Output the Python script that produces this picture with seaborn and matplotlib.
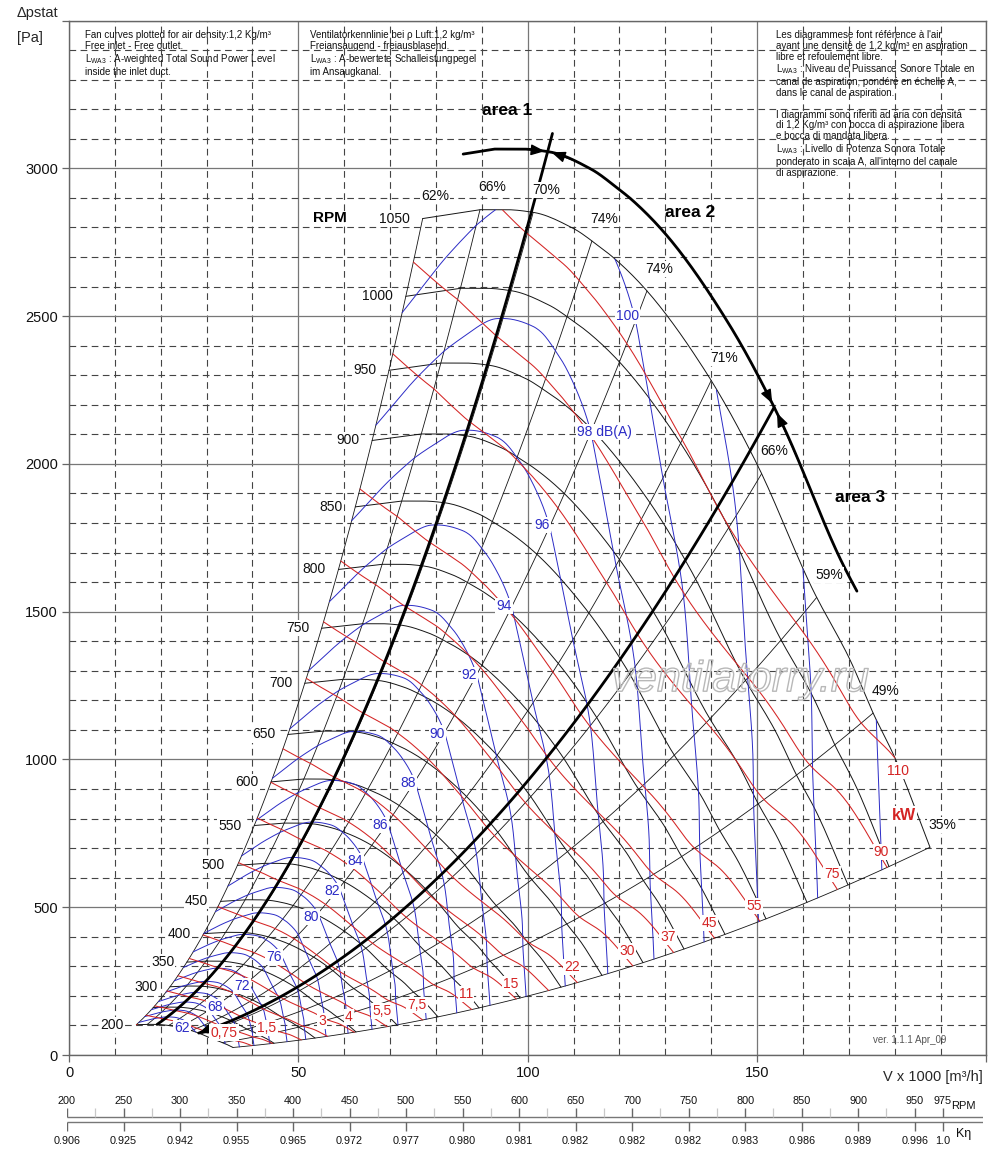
# Fan performance sheet: static pressure vs. air flow
# Speed curves, efficiency lines, motor power lines, sound power lines,
# the three operating areas and the RPM / K-eta scales underneath.

import numpy as np
import pandas as pd
import matplotlib
matplotlib.use("Agg")
import matplotlib.pyplot as plt
import matplotlib.patheffects as pe
import seaborn as sns

# -----------------------------------------------------------
# STEP 1: values
# -----------------------------------------------------------
# outer speed curve (1050 RPM): flow in 1000 m3/h, static pressure in Pa
rpm_top = 1050
base_V = [77.1, 89.6, 95.4, 101.2, 109.9, 115.8, 118.6, 125.9,
          139.0, 149.9, 162.2, 170.3, 175.3, 180.1, 187.7]
base_p = [2830, 2860, 2860, 2851, 2797, 2733, 2699, 2587,
          2307, 2002, 1573, 1336, 1157, 1004, 703]

# speeds drawn as black curves (250 carries no label on the sheet)
rpm_values = [200, 250, 300, 350, 400, 450, 500, 550, 600, 650,
              700, 750, 800, 850, 900, 950, 1000, 1050]
rpm_no_label = [250]

# efficiency lines: where each one meets the 1050 RPM curve
eff_V = [77.1, 89.6, 101.2, 114.0, 126.0, 140.0, 151.0, 163.0, 175.3, 187.7]
eff_pct = [62, 66, 70, 74, 74, 71, 66, 59, 49, 35]

# motor power along the 1050 RPM curve (kW), where the red lines meet it
power_V = [77.1, 89.6, 101.2, 114.0, 126.0, 140.0, 151.0, 163.0, 175.3, 180.1, 187.7]
power_kW = [97.5, 106.5, 114.3, 118.5, 122.4, 126.3, 127.1, 119.7, 115.0, 110.0, 104.9]

# sound power LwA3 along the 1050 RPM curve (dB(A))
snd_V = [77.1, 85, 93, 100, 108, 115, 119, 125, 130, 140, 150, 160, 170, 176, 187.7]
snd_L = [101.45, 100.6, 100.0, 99.65, 99.6, 99.8, 100.0, 100.4, 100.9,
         101.9, 102.8, 104.0, 105.2, 106.0, 107.4]
sound_per_decade = 56          # dB per tenfold speed
db_levels = [62, 64, 66, 68, 70, 72, 74, 76, 78, 80, 82, 84, 86, 88,
             90, 92, 94, 96, 98, 100, 102, 104, 106]
db_shown = [62, 68, 72, 76, 80, 82, 84, 86, 88, 90, 92, 94, 96, 98, 100]
db_label_V = 125.0             # labels sit where the lines cross this curve point

# motor power lines (kW), empty text = line without label
kw_values = [0.75, 1.1, 1.5, 2.2, 3, 4, 5.5, 7.5, 11, 15, 18.5, 22,
             30, 37, 45, 55, 75, 90, 110]
kw_text = ["0,75", "", "1,5", "", "3", "4", "5,5", "7,5", "11", "15", "",
           "22", "30", "37", "45", "55", "75", "90", "110"]

# operating area borders (thick lines)
area1_V = 100.8                # curve point followed by the area 1 line
area3_V = 148.5                # curve point followed by the area 3 line
area2_rpm = 1087               # speed of the area 2 arc
area2_span = [82.9, 166.0]

# scales under the chart
scale_rpm = [200, 250, 300, 350, 400, 450, 500, 550, 600, 650, 700,
             750, 800, 850, 900, 950, 975]
scale_keta = ["0.906", "0.925", "0.942", "0.955", "0.965", "0.972", "0.977",
              "0.980", "0.981", "0.982", "0.982", "0.982", "0.983", "0.986",
              "0.989", "0.996", "1.0"]
scale_minor = [225, 275, 325, 375, 425, 475, 525, 575, 625, 675, 725,
               775, 825, 875, 925]

# -----------------------------------------------------------
# STEP 2: style
# -----------------------------------------------------------
sns.set_theme(style="white")
plt.rcParams["font.family"] = ["Liberation Sans", "DejaVu Sans"]
plt.rcParams["mathtext.fontset"] = "custom"
plt.rcParams["mathtext.rm"] = "Liberation Sans"
plt.rcParams["mathtext.it"] = "Liberation Sans:italic"
plt.rcParams["mathtext.bf"] = "Liberation Sans:bold"

BLACK = "#151515"
RED = "#d42424"
BLUE = "#2c2cc6"
WHITE_BOX = dict(boxstyle="square,pad=0.08", fc="white", ec="none")

fig = plt.figure(figsize=(10, 11.6), dpi=100)
ax = fig.add_axes([0.069, 0.0905, 0.9174, 0.8918])
ax.set_xlim(0, 200)
ax.set_ylim(0, 3500)

ax.set_xticks([0, 50, 100, 150, 200])
ax.set_xticks(np.arange(0, 201, 10), minor=True)
ax.set_yticks(np.arange(0, 3501, 500))
ax.set_yticks(np.arange(0, 3501, 100), minor=True)
ax.set_xticklabels(["0", "50", "100", "150", ""])
ax.set_yticklabels(["0", "500", "1000", "1500", "2000", "2500", "3000", ""])
ax.grid(which="major", color="#777777", lw=0.9, ls="-")
ax.grid(which="minor", color="#444444", lw=0.8, ls=(0, (6, 4)))
ax.set_axisbelow(True)
ax.tick_params(which="minor", length=0)
ax.tick_params(which="major", bottom=True, left=True, length=5, width=0.9,
               color="#666666", labelsize=10.5, pad=3, direction="out",
               labelcolor="#111111")
for spine in ax.spines.values():
    spine.set_color("#666666")
    spine.set_linewidth(1.0)


# -----------------------------------------------------------
# STEP 3: smooth curves through the read points + fan laws
#         (flow ~ n, pressure ~ n^2, power ~ n^3)
# -----------------------------------------------------------
def hermite(x, y, m, xn):
    x = np.asarray(x, float)
    y = np.asarray(y, float)
    xn = np.asarray(xn, float)
    h = np.diff(x)
    i = np.clip(np.searchsorted(x, xn) - 1, 0, len(x) - 2)
    t = (xn - x[i]) / h[i]
    return ((2 * t ** 3 - 3 * t ** 2 + 1) * y[i] + (t ** 3 - 2 * t ** 2 + t) * h[i] * m[i]
            + (-2 * t ** 3 + 3 * t ** 2) * y[i + 1] + (t ** 3 - t ** 2) * h[i] * m[i + 1])


def smooth(x, y, xn):
    # monotone cubic (no overshoot at the peak of the speed curve)
    x = np.asarray(x, float)
    y = np.asarray(y, float)
    h = np.diff(x)
    d = np.diff(y) / h
    m = np.zeros_like(y)
    m[0], m[-1] = d[0], d[-1]
    for i in range(1, len(x) - 1):
        if d[i - 1] * d[i] > 0:
            w1 = 2 * h[i] + h[i - 1]
            w2 = h[i] + 2 * h[i - 1]
            m[i] = (w1 + w2) / (w1 / d[i - 1] + w2 / d[i])
    return hermite(x, y, m, xn)


def soft(x, y, xn):
    # Catmull-Rom style cubic: slopes from the neighbouring points
    x = np.asarray(x, float)
    y = np.asarray(y, float)
    m = np.gradient(y, x)
    return hermite(x, y, m, xn)


def pressure_at(v0):
    # straight piece from the stall point, smooth arc after it
    v0 = np.asarray(v0, float)
    straight = np.interp(v0, base_V[:2], base_p[:2])
    arc = smooth(base_V[1:], base_p[1:], np.maximum(v0, base_V[1]))
    return np.where(v0 <= base_V[1], straight, arc)


r_min = rpm_values[0] / rpm_top
s_V = np.linspace(base_V[0], base_V[-1], 900)
s_p = pressure_at(s_V)
s_L = smooth(snd_V, snd_L, s_V)
s_kw = soft(power_V, power_kW, s_V)


def keep_inside(r, lo=r_min, hi=1.0):
    r = np.array(r, dtype=float)
    r[(r < lo - 1e-9) | (r > hi + 1e-9)] = np.nan
    return r


def point_on(v0, r):
    return v0 * r, pressure_at(v0) * np.asarray(r) ** 2


# speed curves, drawn with seaborn as one long table
rows = []
for n in rpm_values:
    r = n / rpm_top
    for v0, p0 in zip(s_V[::6], s_p[::6]):
        rows.append({"rpm": n, "V": v0 * r, "p": p0 * r ** 2})
    rows.append({"rpm": n, "V": s_V[-1] * r, "p": s_p[-1] * r ** 2})
rpm_df = pd.DataFrame(rows)
sns.lineplot(data=rpm_df, x="V", y="p", units="rpm", estimator=None,
             sort=False, color=BLACK, lw=0.7, ax=ax, legend=False, zorder=2)
ax.set_xlabel("")
ax.set_ylabel("")

for n in rpm_values:
    if n in rpm_no_label:
        continue
    ax.annotate(str(n), xy=point_on(base_V[0], n / rpm_top), xytext=(-9, 0),
                textcoords="offset points", ha="right", va="center",
                fontsize=10, color="#111111", bbox=WHITE_BOX, zorder=6)

# efficiency lines (same point of every speed curve)
r_line = np.linspace(r_min, 1.0, 80)
for v0, pct in zip(eff_V, eff_pct):
    V, p = point_on(v0, r_line)
    ax.plot(V, p, color=BLACK, lw=0.6, zorder=2)
    ax.annotate(f"{pct}%", xy=point_on(v0, 1.0), xytext=(9, 16),
                textcoords="offset points", ha="center", va="center",
                fontsize=10, color="#111111", bbox=WHITE_BOX, zorder=6)

# sound power lines
for L in db_levels:
    r = keep_inside(10 ** ((L - s_L) / sound_per_decade))
    ax.plot(s_V * r, s_p * r ** 2, color=BLUE, lw=0.7, zorder=2.2)

L_at_label = smooth(snd_V, snd_L, [db_label_V])[0]
for L in db_shown:
    r = 10 ** ((L - L_at_label) / sound_per_decade)
    xy = point_on(db_label_V, r)
    if L == 98:
        ax.annotate("98 dB(A)", xy=xy, xytext=(-8, -6), textcoords="offset points",
                    ha="left", va="center", fontsize=10, color=BLUE,
                    bbox=WHITE_BOX, zorder=6)
    else:
        ax.annotate(str(L), xy=xy, xytext=(-4, -4), textcoords="offset points",
                    ha="center", va="center", fontsize=10, color=BLUE,
                    bbox=WHITE_BOX, zorder=6)

# motor power lines (efficiency corrected with K-eta of the speed)
keta_num = [float(v) for v in scale_keta]
for P, txt in zip(kw_values, kw_text):
    r = (P / s_kw) ** (1 / 3)
    for _ in range(5):
        k = np.interp(r * rpm_top, scale_rpm, keta_num)
        r = (P * k / s_kw) ** (1 / 3)
    r_in = keep_inside(r)
    ax.plot(s_V * r_in, s_p * r_in ** 2, color=RED, lw=0.75, zorder=2.4)
    if not txt:
        continue
    if r[-1] <= 1.0:
        xy = (s_V[-1] * r[-1], s_p[-1] * r[-1] ** 2)
        off = (-4, 11)
    else:
        last = np.where(~np.isnan(r_in))[0][-1]
        xy = (s_V[last] * r_in[last], s_p[last] * r_in[last] ** 2)
        off = (2, -9)
    ax.annotate(txt, xy=xy, xytext=off, textcoords="offset points",
                ha="center", va="center", fontsize=10, color=RED,
                bbox=WHITE_BOX, zorder=6)

# -----------------------------------------------------------
# STEP 4: operating areas
# -----------------------------------------------------------
ra = area2_rpm / rpm_top
V1, p1 = point_on(area1_V, np.linspace(r_min, ra * 1.01, 80))
ax.plot(V1, p1, color="black", lw=2.0, zorder=4)
V3, p3 = point_on(area3_V, np.linspace(r_min, ra, 80))
ax.plot(V3, p3, color="black", lw=2.0, zorder=4)
span = (s_V >= area2_span[0]) & (s_V <= area2_span[1])
ax.plot(s_V[span] * ra, s_p[span] * ra ** 2, color="black", lw=2.0, zorder=4)


def arrow(tail, tip):
    ax.annotate("", xy=tip, xytext=tail, zorder=5,
                arrowprops=dict(arrowstyle="-|>,head_length=0.7,head_width=0.28",
                                color="black", lw=1, shrinkA=0, shrinkB=0,
                                mutation_scale=12))


arrow(point_on(area1_V - 5, ra), point_on(area1_V - 0.6, ra))
arrow(point_on(area1_V + 6, ra), point_on(area1_V + 0.8, ra))
arrow(point_on(area3_V - 5, ra), point_on(area3_V - 0.4, ra))
arrow(point_on(area3_V + 5, ra), point_on(area3_V + 0.6, ra))
arrow(point_on(area3_V, 0.23), point_on(area3_V, r_min))

ax.text(95.5, 3196, "area 1", fontsize=12.5, fontweight="bold", ha="center",
        va="center", color="black", zorder=6)
ax.text(135.4, 2851, "area 2", fontsize=12.5, fontweight="bold", ha="center",
        va="center", color="black", zorder=6)
ax.text(172.4, 1887, "area 3", fontsize=12.5, fontweight="bold", ha="center",
        va="center", color="black", zorder=6)
ax.text(56.9, 2831, "RPM", fontsize=11, fontweight="bold", ha="center",
        va="center", color="black", zorder=6)
ax.text(182.0, 812, "kW", fontsize=11.5, fontweight="bold", ha="center",
        va="center", color=RED, bbox=WHITE_BOX, zorder=6)
ax.text(183.3, 51, "ver. 1.1.1 Apr_09", fontsize=7, ha="center",
        va="center", color="#555555", zorder=6)

# watermark, outline only
wm = ax.text(146.3, 1268, "ventilatorry.ru", fontsize=31, style="italic",
             ha="center", va="center", color="none", zorder=7)
wm.set_path_effects([pe.Stroke(linewidth=1.0, foreground="#b8b8b8")])

# -----------------------------------------------------------
# STEP 5: texts around the chart
# -----------------------------------------------------------
def fig_xy(px, py):
    return px / 1000.0, 1 - py / 1160.0


note_en = ("Fan curves plotted for air density:1,2 Kg/m³\n"
           "Free inlet - Free outlet.\n"
           "L$_{\\mathrm{WA3}}$ : A-weighted Total Sound Power Level\n"
           "inside the inlet duct.")
note_de = ("Ventilatorkennlinie bei ρ Luft:1,2 kg/m³\n"
           "Freiansaugend - freiausblasend.\n"
           "L$_{\\mathrm{WA3}}$ : A-bewertete Schalleistungpegel\n"
           "im Ansaugkanal.")
note_fr_it = ("Les diagrammese font référence à l'air\n"
              "ayant une densité de 1,2 kg/m³ en aspiration\n"
              "libre et refoulement libre.\n"
              "L$_{\\mathrm{WA3}}$ : Niveau de Puissance Sonore Totale en\n"
              "canal de aspiration, pondéré en échelle A,\n"
              "dans le canal de aspiration.\n"
              "\n"
              "I diagrammi sono riferiti ad aria con densità\n"
              "di 1,2 Kg/m³ con bocca di aspirazione libera\n"
              "e bocca di mandata libera.\n"
              "L$_{\\mathrm{WA3}}$ : Livello di Potenza Sonora Totale\n"
              "ponderato in scala A, all'interno del canale\n"
              "di aspirazione.")
for px, note in [(85, note_en), (310, note_de), (776, note_fr_it)]:
    fig.text(*fig_xy(px, 30), note, fontsize=7.0, va="top", ha="left",
             linespacing=1.1, color="#111111")

fig.text(*fig_xy(17, 13), "Δpstat", fontsize=10.5, va="center", ha="left")
fig.text(*fig_xy(17, 38), "[Pa]", fontsize=10.5, va="center", ha="left")
fig.text(*fig_xy(983, 1077), "V x 1000 [m³/h]", fontsize=10.5, va="center",
         ha="right")

# -----------------------------------------------------------
# STEP 6: RPM and K-eta scales (y axis in pixel rows)
# -----------------------------------------------------------
sc = fig.add_axes([0.067, 8 / 1160, 0.916, 62 / 1160])
sc.set_xlim(200, 200 + 916 / 1.1303)
sc.set_ylim(1152, 1090)
sc.axis("off")
narrow = ["Liberation Sans Narrow", "Liberation Sans", "DejaVu Sans"]

sc.hlines(1117, 200, sc.get_xlim()[1], color="#777777", lw=1.0)
sc.hlines(1122, 200, sc.get_xlim()[1], color="#777777", lw=1.0)
sc.vlines(scale_minor, 1108, 1117, color="#c8c8c8", lw=0.9)
sc.vlines(scale_rpm, 1108, 1117, color="#666666", lw=1.0)
sc.vlines(scale_rpm, 1122, 1131, color="#666666", lw=1.0)
for n, k in zip(scale_rpm, scale_keta):
    sc.text(n, 1101, str(n), fontsize=7.8, ha="center", va="center",
            family=narrow, color="#111111")
    sc.text(n, 1141, k, fontsize=7.8, ha="center", va="center",
            family=narrow, color="#111111")
sc.text(993, 1106, "RPM", fontsize=8, ha="center", va="center",
        family=narrow, color="#111111")
sc.text(993, 1134, "Kη", fontsize=9, ha="center", va="center",
        family=narrow, color="#111111")

fig.savefig("out.png", dpi=100)
print("Saved: out.png")
